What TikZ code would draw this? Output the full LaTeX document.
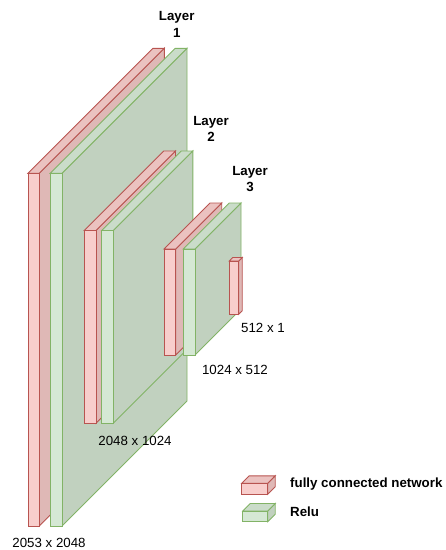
\documentclass[tikz,border=0pt]{standalone}
\usepackage{fontspec}
\setmainfont{Liberation Sans}
\definecolor{redfront}{HTML}{F8CECC}
\definecolor{redtop}{HTML}{EBC2C0}
\definecolor{redside}{HTML}{DFB8B6}
\definecolor{redline}{HTML}{B85450}
\definecolor{greenfront}{HTML}{D5E8D4}
\definecolor{greentop}{HTML}{CADCC9}
\definecolor{greenside}{HTML}{C1D1BF}
\definecolor{greenline}{HTML}{82B366}
\tikzset{
  red front/.style={fill=redfront,draw=redline,line width=0.9pt,line join=miter},
  red top/.style={fill=redtop,draw=redline,line width=0.9pt},
  red side/.style={fill=redside,draw=redline,line width=0.9pt},
  green front/.style={fill=greenfront,draw=greenline,line width=0.9pt},
  green top/.style={fill=greentop,draw=greenline,line width=0.9pt},
  green side/.style={fill=greenside,draw=greenline,line width=0.9pt},
  layerlabel/.style={font=\fontsize{13.3}{16.6}\selectfont\bfseries,align=center,inner sep=0pt},
  dimlabel/.style={font=\fontsize{13.3}{16}\selectfont,inner sep=0pt},
  legendlabel/.style={font=\fontsize{13.3}{16}\selectfont\bfseries,anchor=west,inner sep=0pt}
}
% #1 left x, #2 right x, #3 top y, #4 bottom y, #5 depth, #6 red/green
\newcommand\drawcube[6]{%
  \filldraw[#6 side] (#2,#3) -- ++(#5,-#5) -- ++(0,{#4-#3}) -- (#2,#4) -- cycle;
  \filldraw[#6 top] (#1,#3) -- ++(#5,-#5) -- ++({#2-#1},0) -- (#2,#3) -- cycle;
  \filldraw[#6 front] (#1,#3) rectangle (#2,#4);
}
\begin{document}
\begin{tikzpicture}[x=1pt,y=-1pt]
\useasboundingbox (0,0) rectangle (446,550);
% Layer 1
\drawcube{28}{39.3}{173.3}{526}{125}{red}
\drawcube{50.3}{62}{173.3}{526}{125}{green}
% Layer 2
\drawcube{84.3}{96}{230.5}{423.3}{79.5}{red}
\drawcube{101.7}{113.3}{230.5}{423.3}{79.5}{green}
% Layer 3
\drawcube{164}{175.7}{249}{355}{46}{red}
\drawcube{183.3}{195}{249}{355}{46}{green}
% output
\drawcube{229.3}{238.7}{261}{314.3}{3.5}{red}
% legend
\drawcube{241.7}{267.7}{483.3}{494.3}{7.5}{red}
\drawcube{242.7}{267.7}{511}{521.7}{7.5}{green}
% labels
\node[layerlabel] (l1) at (176.7,24.5) {Layer\\1};
\node[layerlabel] (l2) at (211,129) {Layer\\2};
\node[layerlabel] (l3) at (250,179) {Layer\\3};
\node[dimlabel] (d4) at (263,328) {512 x 1};
\node[dimlabel] (d3) at (235,370) {1024 x 512};
\node[dimlabel] (d2) at (135,440.7) {2048 x 1024};
\node[dimlabel] (d1) at (49,542.7) {2053 x 2048};
\node[legendlabel] (lg1) at (290,484) {fully connected network};
\node[legendlabel] (lg2) at (290,511.7) {Relu};
\end{tikzpicture}
\end{document}
